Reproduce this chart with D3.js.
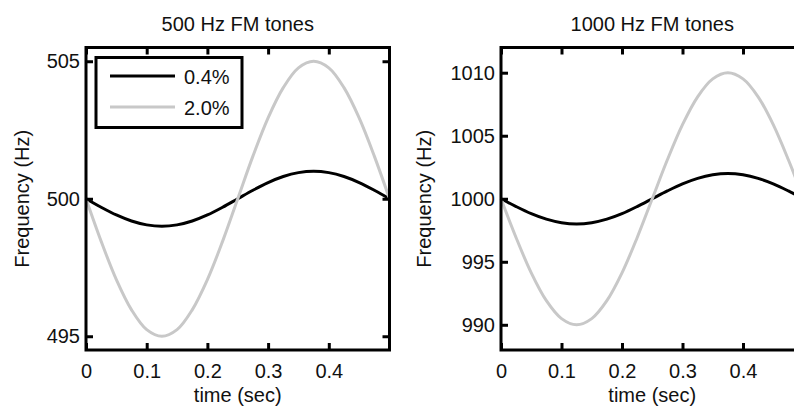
<!DOCTYPE html>
<html>
<head>
<meta charset="utf-8">
<script src="https://cdn.jsdelivr.net/npm/d3@7"></script>
<style>
  html, body { margin: 0; padding: 0; background: #fff; }
  svg { display: block; font-family: "Liberation Sans", Arial, sans-serif; }
</style>
</head>
<body>
<svg id="chart" width="794" height="408"></svg>
<script>
// ---- data ----
const time = [0, 0.025, 0.05, 0.075, 0.1, 0.125, 0.15, 0.175, 0.2, 0.225, 0.25,
              0.275, 0.3, 0.325, 0.35, 0.375, 0.4, 0.425, 0.45, 0.475, 0.5];

const f500_04 = [500, 499.69, 499.41, 499.19, 499.05, 499.0, 499.05, 499.19, 499.41, 499.69, 500,
                 500.31, 500.59, 500.81, 500.95, 501.0, 500.95, 500.81, 500.59, 500.31, 500];
const f500_20 = [500, 498.45, 497.06, 495.96, 495.24, 495.0, 495.24, 495.96, 497.06, 498.45, 500,
                 501.55, 502.94, 504.04, 504.76, 505.0, 504.76, 504.04, 502.94, 501.55, 500];
const f1000_04 = [1000, 999.38, 998.82, 998.38, 998.10, 998.0, 998.10, 998.38, 998.82, 999.38, 1000,
                  1000.62, 1001.18, 1001.62, 1001.90, 1002.0, 1001.90, 1001.62, 1001.18, 1000.62, 1000];
const f1000_20 = [1000, 996.91, 994.12, 991.91, 990.49, 990.0, 990.49, 991.91, 994.12, 996.91, 1000,
                  1003.09, 1005.88, 1008.09, 1009.51, 1010.0, 1009.51, 1008.09, 1005.88, 1003.09, 1000];

const xTicks = [0, 0.1, 0.2, 0.3, 0.4];
const yTicks500 = [495, 500, 505];
const yTicks1000 = [990, 995, 1000, 1005, 1010];
const legendLabels = ["0.4%", "2.0%"];
const titles = ["500 Hz FM tones", "1000 Hz FM tones"];

// ---- layout ----
const svg = d3.select("#chart");
const panels = [
  { left: 86, right: 389.5, top: 47.5, bottom: 350, ydom: [494.5, 505.5], yticks: yTicks500,
    s1: f500_04, s2: f500_20, title: titles[0], ylabX: 22, legend: true },
  { left: 501, right: 803.5, top: 47.5, bottom: 350, ydom: [988, 1012], yticks: yTicks1000,
    s1: f1000_04, s2: f1000_20, title: titles[1], ylabX: 424, legend: false }
];
const darkColor = "#000";
const grayColor = "#c8c8c8";
const tickLen = 7;

panels.forEach(p => {
  const x = d3.scaleLinear().domain([0, 0.5]).range([p.left, p.right]);
  const y = d3.scaleLinear().domain(p.ydom).range([p.bottom, p.top]);
  const g = svg.append("g");

  const line = d3.line().x((d, i) => x(time[i])).y(d => y(d)).curve(d3.curveCatmullRom);

  // series: black first, gray drawn on top
  g.append("path").datum(p.s1).attr("d", line)
    .attr("fill", "none").attr("stroke", darkColor).attr("stroke-width", 3);
  g.append("path").datum(p.s2).attr("d", line)
    .attr("fill", "none").attr("stroke", grayColor).attr("stroke-width", 3);

  // axes (ticks inward, labels outside)
  const axB = d3.axisBottom(x).tickValues(xTicks).tickSizeInner(-tickLen).tickSizeOuter(0)
    .tickFormat(d => d === 0 ? "0" : d3.format(".1f")(d)).tickPadding(14);
  const axT = d3.axisTop(x).tickValues(xTicks).tickSizeInner(-tickLen).tickSizeOuter(0).tickFormat("");
  const axL = d3.axisLeft(y).tickValues(p.yticks).tickSizeInner(-tickLen).tickSizeOuter(0)
    .tickFormat(d3.format("d")).tickPadding(6);
  const axR = d3.axisRight(y).tickValues(p.yticks).tickSizeInner(-tickLen).tickSizeOuter(0).tickFormat("");

  const gb = g.append("g").attr("transform", `translate(0,${p.bottom})`).call(axB);
  const gt = g.append("g").attr("transform", `translate(0,${p.top})`).call(axT);
  const gl = g.append("g").attr("transform", `translate(${p.left},0)`).call(axL);
  const gr = g.append("g").attr("transform", `translate(${p.right},0)`).call(axR);
  [gb, gt, gl, gr].forEach(a => {
    a.select(".domain").remove();
    a.selectAll(".tick line").attr("stroke", darkColor).attr("stroke-width", 3);
    a.selectAll(".tick text").attr("fill", "#111").attr("font-size", 20)
      .attr("font-family", "'Liberation Sans', Arial, sans-serif");
  });

  // frame
  g.append("rect").attr("x", p.left).attr("y", p.top)
    .attr("width", p.right - p.left).attr("height", p.bottom - p.top)
    .attr("fill", "none").attr("stroke", darkColor).attr("stroke-width", 3);

  // title
  svg.append("text").attr("x", (p.left + p.right) / 2).attr("y", 31)
    .attr("text-anchor", "middle").attr("font-size", 20).attr("fill", "#111").text(p.title);
  // x label
  svg.append("text").attr("x", (p.left + p.right) / 2).attr("y", 402)
    .attr("text-anchor", "middle").attr("font-size", 20).attr("fill", "#111").text("time (sec)");
  // y label
  svg.append("text").attr("transform", `translate(${p.ylabX + 7},${(p.top + p.bottom) / 2}) rotate(-90)`)
    .attr("text-anchor", "middle").attr("font-size", 20).attr("fill", "#111").text("Frequency (Hz)");

  if (p.legend) {
    const lg = svg.append("g");
    lg.append("rect").attr("x", 96).attr("y", 57.5).attr("width", 146).attr("height", 70)
      .attr("fill", "#fff").attr("stroke", darkColor).attr("stroke-width", 3);
    [darkColor, grayColor].forEach((c, i) => {
      const yy = 76 + i * 31;
      lg.append("line").attr("x1", 110).attr("x2", 175).attr("y1", yy).attr("y2", yy)
        .attr("stroke", c).attr("stroke-width", 3);
      lg.append("text").attr("x", 184).attr("y", yy + 8).attr("font-size", 20)
        .attr("fill", "#111").text(legendLabels[i]);
    });
  }
});
</script>
</body>
</html>
